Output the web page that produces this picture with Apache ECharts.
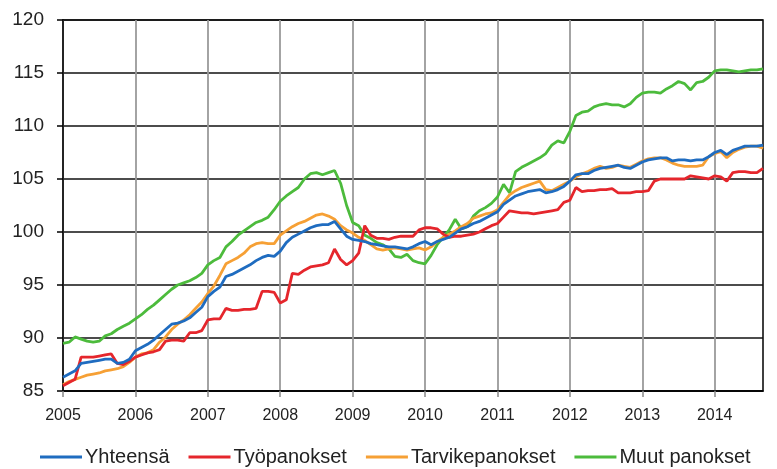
<!DOCTYPE html>
<html>
<head>
<meta charset="utf-8">
<script src="https://cdn.jsdelivr.net/npm/echarts@6/dist/echarts.min.js"></script>
<style>html,body{margin:0;padding:0;background:#fff}#c{width:777px;height:469px}</style>
</head>
<body>
<div id="c"></div>
<script>
// Monthly data 2005-01 .. 2014-09
const startYear = 2005;
const monthCount = 117;
const months = [];
for (let i = 0; i < monthCount; i++) {
  const y = startYear + Math.floor(i / 12);
  const m = (i % 12) + 1;
  months.push(y + '-' + (m < 10 ? '0' + m : m));
}
const seriesNames = ['Yhteensä', 'Työpanokset', 'Tarvikepanokset', 'Muut panokset'];

const yhteensa = [
86.3,86.6,86.9,87.6,87.7,87.8,87.9,88.0,88.0,87.6,87.7,88.0,
88.8,89.1,89.4,89.8,90.3,90.8,91.3,91.4,91.6,91.9,92.4,92.9,
93.9,94.4,94.8,95.8,96.0,96.3,96.6,96.9,97.3,97.6,97.8,97.7,
98.2,99.0,99.5,99.8,100.1,100.4,100.6,100.7,100.7,101.0,100.3,99.6,
99.3,99.2,99.1,98.9,98.8,98.7,98.6,98.6,98.5,98.4,98.6,98.9,
99.1,98.8,99.1,99.3,99.5,99.9,100.3,100.5,100.8,101.0,101.3,101.6,
101.9,102.6,103.0,103.4,103.6,103.8,103.9,104.0,103.7,103.8,104.0,104.3,
104.8,105.4,105.5,105.5,105.8,106.0,106.1,106.2,106.3,106.1,106.0,106.3,
106.6,106.8,106.9,107.0,107.0,106.7,106.8,106.8,106.7,106.8,106.8,107.1,
107.5,107.7,107.3,107.7,107.9,108.1,108.1,108.1,108.2
];
const tyopanokset = [
85.5,85.8,86.1,88.2,88.2,88.2,88.3,88.4,88.5,87.6,87.5,87.8,
88.2,88.4,88.6,88.7,88.9,89.7,89.8,89.8,89.7,90.5,90.5,90.7,
91.7,91.8,91.8,92.8,92.6,92.6,92.7,92.7,92.8,94.4,94.4,94.3,
93.3,93.6,96.1,96.0,96.4,96.7,96.8,96.9,97.1,98.4,97.4,96.9,
97.3,98.0,100.6,99.7,99.4,99.4,99.3,99.5,99.6,99.6,99.6,100.2,
100.4,100.4,100.3,99.8,99.5,99.6,99.6,99.7,99.8,100.0,100.3,100.6,
100.8,101.4,102.0,101.9,101.8,101.8,101.7,101.8,101.9,102.0,102.1,102.8,
103.0,104.2,103.8,103.9,103.9,104.0,104.0,104.1,103.7,103.7,103.7,103.8,
103.8,103.9,104.8,105.0,105.0,105.0,105.0,105.0,105.3,105.2,105.1,105.0,
105.3,105.2,104.8,105.6,105.7,105.7,105.6,105.6,106.0
];
const tarvikepanokset = [
85.6,85.9,86.1,86.3,86.5,86.6,86.7,86.9,87.0,87.1,87.3,87.7,
88.2,88.5,88.6,88.9,89.6,90.1,90.8,91.3,91.7,92.2,92.8,93.4,
94.2,94.9,95.9,97.0,97.3,97.6,98.0,98.6,98.9,99.0,98.9,98.9,
99.7,100.1,100.5,100.8,101.0,101.3,101.6,101.7,101.5,101.2,100.6,100.2,
99.9,99.5,99.2,98.8,98.4,98.3,98.4,98.5,98.4,98.3,98.4,98.5,
98.3,98.6,99.1,99.5,99.8,100.1,100.5,100.8,101.3,101.5,101.7,101.8,
102.1,102.8,103.5,103.9,104.2,104.4,104.6,104.8,104.0,103.9,104.2,104.5,
104.8,105.2,105.5,105.7,106.0,106.2,106.0,106.1,106.3,106.2,106.1,106.4,
106.7,106.9,107.0,107.0,106.8,106.5,106.3,106.2,106.2,106.2,106.3,107.1,
107.4,107.6,107.0,107.5,107.8,108.0,108.1,108.1,107.9
];
const muutPanokset = [
89.5,89.6,90.1,89.9,89.7,89.6,89.7,90.2,90.4,90.8,91.1,91.4,
91.8,92.2,92.7,93.1,93.6,94.1,94.6,95.0,95.2,95.4,95.7,96.1,
96.9,97.3,97.6,98.6,99.1,99.7,100.1,100.5,100.9,101.1,101.4,102.1,
102.9,103.4,103.8,104.2,105.0,105.5,105.6,105.4,105.6,105.8,104.6,102.5,
100.9,100.6,99.7,99.4,99.0,98.8,98.4,97.7,97.6,97.9,97.3,97.1,
97.0,97.8,98.8,99.5,100.2,101.2,100.3,100.5,101.5,102.0,102.3,102.7,
103.3,104.5,103.7,105.7,106.1,106.4,106.7,107.0,107.4,108.2,108.6,108.4,
109.5,111.0,111.3,111.4,111.8,112.0,112.1,112.0,112.0,111.8,112.1,112.7,
113.1,113.2,113.2,113.1,113.5,113.8,114.2,114.0,113.4,114.1,114.2,114.6,
115.2,115.3,115.3,115.2,115.1,115.2,115.3,115.3,115.4
];
const yTicks = [85, 90, 95, 100, 105, 110, 115, 120];

const colors = ['#1f6cc0', '#e5262c', '#f6a035', '#4cbb3c'];
const isYearStart = (idx) => idx % 12 === 0;
const font = "'Liberation Sans', Arial, sans-serif";

const chart = echarts.init(document.getElementById('c'));
const data = [yhteensa, tyopanokset, tarvikepanokset, muutPanokset];
chart.setOption({
  animation: false,
  color: colors,
  grid: { left: 63, right: 14, top: 20, bottom: 78, show: true, borderColor: '#000', borderWidth: 1.5 },
  legend: {
    top: 447, left: 40, itemWidth: 42, itemHeight: 3, itemGap: 19, padding: 0,
    icon: 'rect',
    textStyle: { fontFamily: font, fontSize: 20, color: '#222', padding: [0, 0, 0, -2] },
    data: seriesNames
  },
  xAxis: {
    type: 'category', data: months, boundaryGap: false,
    axisLine: { lineStyle: { color: '#000', width: 1.5 } },
    axisTick: { interval: (i) => isYearStart(i), length: 6, lineStyle: { color: '#888', width: 1.5 } },
    splitLine: { show: true, interval: (i) => isYearStart(i), lineStyle: { color: '#9a9a9a', width: 1.8 } },
    axisLabel: { interval: (i) => isYearStart(i), formatter: (v) => v.slice(0, 4), fontFamily: font, fontSize: 16, color: '#222', margin: 17 }
  },
  yAxis: {
    type: 'value', min: yTicks[0], max: yTicks[yTicks.length - 1], interval: 5,
    axisLine: { show: true, lineStyle: { color: '#000', width: 1.5 } },
    axisTick: { show: true, length: 6, lineStyle: { color: '#000', width: 1.5 } },
    splitLine: { lineStyle: { color: '#111', width: 1.5 } },
    axisLabel: { fontFamily: font, fontSize: 19, color: '#222', margin: 19 }
  },
  series: seriesNames.map((n, k) => ({
    name: n, type: 'line', data: data[k], showSymbol: false, symbol: 'none',
    lineStyle: { width: 2.8, color: colors[k] }, z: 10 - k
  }))
});
</script>
</body>
</html>
